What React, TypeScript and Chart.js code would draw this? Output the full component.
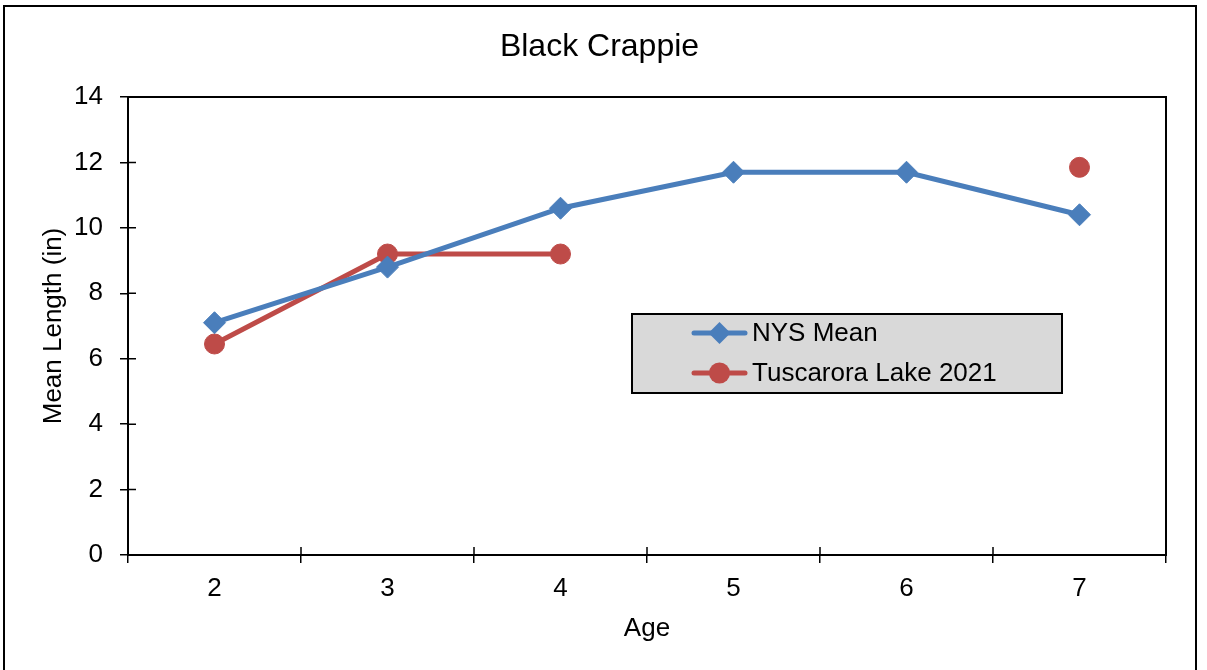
import React, { useEffect, useRef } from "react";
import { Chart, registerables } from "chart.js";

Chart.register(...registerables);

const categories = ["2", "3", "4", "5", "6", "7"];
const nysMean = [7.1, 8.8, 10.6, 11.7, 11.7, 10.4];
const tuscarora: (number | null)[] = [6.45, 9.2, 9.2, null, null, 11.85];
const seriesLabels = ["NYS Mean", "Tuscarora Lake 2021"];
const chartTitle = "Black Crappie";
const xTitle = "Age";
const yTitle = "Mean Length (in)";

const BLUE = "#4A7EBB";
const RED = "#BE4B48";
const FONT = "'Liberation Sans', Arial, sans-serif";

const decorPlugin = {
  id: "decor",
  afterDraw(chart: any) {
    const { ctx, chartArea } = chart;
    const xs = chart.scales.x;
    const ys = chart.scales.y;
    ctx.save();
    // plot area border
    ctx.strokeStyle = "#000";
    ctx.lineWidth = 2;
    ctx.strokeRect(chartArea.left, chartArea.top, chartArea.right - chartArea.left, chartArea.bottom - chartArea.top);
    // inner tick marks (cross ticks)
    ctx.lineWidth = 1.5;
    ctx.beginPath();
    const n = xs.ticks.length;
    const bounds: number[] = [];
    const step = n > 1 ? xs.getPixelForTick(1) - xs.getPixelForTick(0) : 0;
    for (let i = 0; i < n; i++) bounds.push(xs.getPixelForTick(i) - step / 2);
    bounds.push(xs.getPixelForTick(n - 1) + step / 2);
    for (const bx of bounds) {
      ctx.moveTo(bx, chartArea.bottom);
      ctx.lineTo(bx, chartArea.bottom - 8);
    }
    for (let i = 0; i < ys.ticks.length; i++) {
      const py = ys.getPixelForTick(i);
      ctx.moveTo(chartArea.left, py);
      ctx.lineTo(chartArea.left + 8, py);
    }
    ctx.stroke();

    // outer frame
    ctx.lineWidth = 2;
    ctx.beginPath();
    ctx.moveTo(4, 700);
    ctx.lineTo(4, 6);
    ctx.lineTo(1196, 6);
    ctx.lineTo(1196, 700);
    ctx.stroke();

    // title
    ctx.fillStyle = "#000";
    ctx.font = `32px ${FONT}`;
    ctx.textAlign = "center";
    ctx.textBaseline = "middle";
    ctx.fillText(chartTitle, 599.5, 47);

    // legend
    const lx = 632, ly = 314, lw = 430, lh = 79;
    ctx.fillStyle = "#D9D9D9";
    ctx.fillRect(lx, ly, lw, lh);
    ctx.strokeStyle = "#000";
    ctx.lineWidth = 2;
    ctx.strokeRect(lx, ly, lw, lh);
    const rows = [333, 373];
    chart.data.datasets.forEach((ds: any, i: number) => {
      const y = rows[i];
      ctx.strokeStyle = ds.borderColor;
      ctx.lineWidth = 5;
      ctx.lineCap = "round";
      ctx.beginPath();
      ctx.moveTo(694, y);
      ctx.lineTo(745, y);
      ctx.stroke();
      ctx.fillStyle = ds.borderColor;
      ctx.beginPath();
      if (ds.pointStyle === "rectRot") {
        const r = 11;
        ctx.moveTo(719.5, y - r);
        ctx.lineTo(719.5 + r, y);
        ctx.lineTo(719.5, y + r);
        ctx.lineTo(719.5 - r, y);
        ctx.closePath();
      } else {
        ctx.arc(719.5, y, 10.5, 0, Math.PI * 2);
      }
      ctx.fill();
      ctx.fillStyle = "#000";
      ctx.font = `26px ${FONT}`;
      ctx.textAlign = "left";
      ctx.textBaseline = "middle";
      ctx.fillText(ds.label, 752, y + 1);
    });
    ctx.restore();
  },
};

export default function App() {
  const ref = useRef<HTMLCanvasElement>(null);
  useEffect(() => {
    document.body.style.margin = "0";
    const chart = new Chart(ref.current!, {
      type: "line",
      data: {
        labels: categories,
        datasets: [
          {
            label: seriesLabels[0],
            data: nysMean,
            borderColor: BLUE,
            backgroundColor: BLUE,
            borderWidth: 5,
            pointStyle: "rectRot",
            pointRadius: 11,
            pointBorderWidth: 1,
            pointBackgroundColor: BLUE,
            pointBorderColor: BLUE,
            tension: 0,
          },
          {
            label: seriesLabels[1],
            data: tuscarora,
            borderColor: RED,
            backgroundColor: RED,
            borderWidth: 5,
            pointStyle: "circle",
            pointRadius: 10,
            pointBorderWidth: 1,
            pointBackgroundColor: RED,
            pointBorderColor: RED,
            spanGaps: false,
            tension: 0,
          },
        ],
      },
      options: {
        animation: false,
        responsive: false,
        maintainAspectRatio: false,
        layout: { padding: { top: 97, right: 41, left: 0, bottom: 0 } },
        plugins: {
          legend: { display: false },
          title: { display: false },
          tooltip: { enabled: false },
        },
        scales: {
          x: {
            type: "category",
            offset: true,
            grid: { offset: true, drawOnChartArea: false, drawTicks: true, tickLength: 8, color: "#000", lineWidth: 1.5 },
            border: { color: "#000", width: 2 },
            ticks: { color: "#000", font: { family: FONT, size: 26 }, padding: 10 },
            title: { display: true, text: xTitle, color: "#000", font: { family: FONT, size: 26 }, padding: { top: 0, bottom: 26 } },
            afterFit: (s: any) => { s.height = 115; },
          },
          y: {
            min: 0,
            max: 14,
            ticks: { stepSize: 2, color: "#000", font: { family: FONT, size: 26 }, padding: 17 },
            grid: { drawOnChartArea: false, drawTicks: true, tickLength: 8, color: "#000", lineWidth: 1.5 },
            border: { color: "#000", width: 2 },
            title: { display: true, text: yTitle, color: "#000", font: { family: FONT, size: 26 }, padding: { top: 38, bottom: 0 } },
            afterFit: (s: any) => { s.width = 128; },
          },
        },
      },
      plugins: [decorPlugin],
    });
    return () => chart.destroy();
  }, []);
  return (
    <div style={{ position: "fixed", left: 0, top: 0, width: 1207, height: 670, background: "#fff" }}>
      <canvas ref={ref} width={1207} height={670} style={{ display: "block" }} />
    </div>
  );
}
